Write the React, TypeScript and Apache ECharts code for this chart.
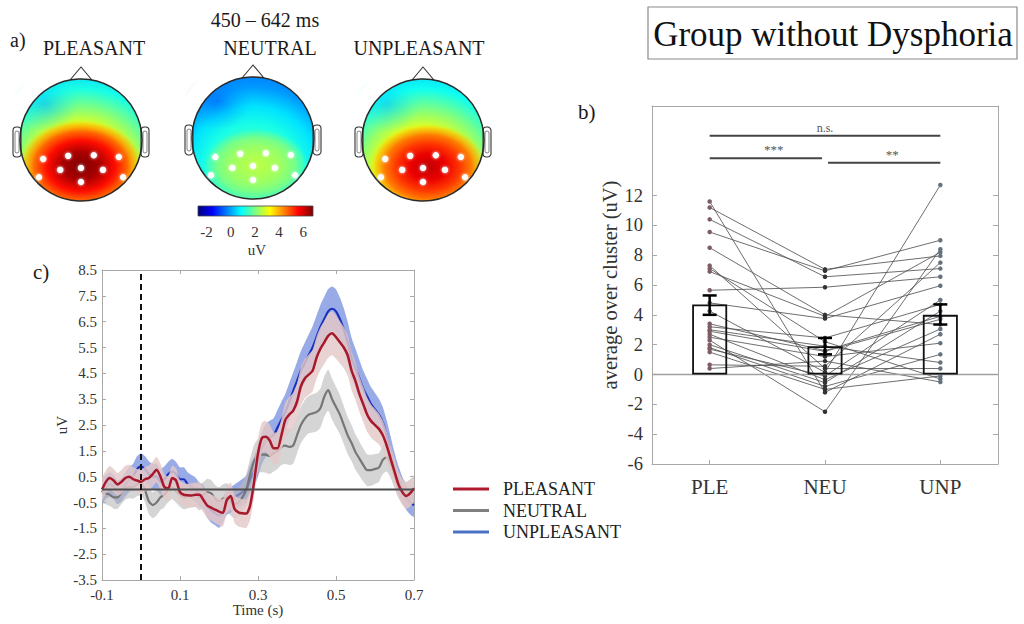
import React, { useEffect, useRef } from 'react';
import * as echarts from 'echarts';

const FONT = '"Liberation Serif", "Times New Roman", serif';

// ---------- a) scalp maps, 450–642 ms ----------
const conditions = ['PLEASANT', 'NEUTRAL', 'UNPLEASANT'];
const colorRange = [-2.7, 6.8];
const colorbarTicks = [-2, 0, 2, 4, 6];
// background field (uV) from the posterior pole outward
const fieldStops = [0, 0.25, 0.45, 0.62, 0.8, 1];
const backgroundField = [
  [4.3, 3.9, 3.1, 2.1, 1.1, 0.4],
  [1.9, 1.6, 1.1, 0.6, -0.1, -0.5],
  [4.1, 3.7, 2.9, 2.0, 1.0, 0.4],
];
// posterior maximum over the cluster (uV)
const peakStops = [0, 0.3, 0.55, 0.75, 0.9, 1];
const peakField = [
  [6.8, 6.4, 5.5, 4.7, 4.0, 3.6],
  [2.6, 2.45, 2.25, 2.0, 1.7, 1.5],
  [6.2, 5.8, 5.1, 4.5, 3.9, 3.5],
];
const peakAlpha = [1, 1, 1, 0.95, 0.6, 0];
// frontal-left minimum (uV)
const frontalMin = [0.1, -0.8, 0.2];
// electrode cluster, in head radii (x to the right, y toward the back)
const electrodes = [
  [-0.62, 0.31], [-0.21, 0.26], [0.21, 0.25], [0.62, 0.28],
  [-0.69, 0.61], [-0.34, 0.49], [0, 0.46], [0.36, 0.49], [0.69, 0.61], [0, 0.69],
];

// ---------- c) grand-average ERP ----------
const times = [
  -0.1, -0.09, -0.08, -0.07, -0.06, -0.05, -0.04, -0.03, -0.02, -0.01,
  0, 0.01, 0.02, 0.03, 0.04, 0.05, 0.06, 0.07, 0.08, 0.09,
  0.1, 0.11, 0.12, 0.13, 0.14, 0.15, 0.16, 0.17, 0.18, 0.19,
  0.2, 0.21, 0.22, 0.23, 0.24, 0.25, 0.26, 0.27, 0.28, 0.29,
  0.3, 0.31, 0.32, 0.33, 0.34, 0.35, 0.36, 0.37, 0.38, 0.39,
  0.4, 0.41, 0.42, 0.43, 0.44, 0.45, 0.46, 0.47, 0.48, 0.49,
  0.5, 0.51, 0.52, 0.53, 0.54, 0.55, 0.56, 0.57, 0.58, 0.59,
  0.6, 0.61, 0.62, 0.63, 0.64, 0.65, 0.66, 0.67, 0.68, 0.69,
  0.7,
];
const pleasant = [
  0.0, 0.3, 0.45, 0.35, 0.2, 0.3, 0.45, 0.5, 0.4, 0.35,
  0.3, 0.4, 0.45, 0.6, 0.77, 0.5, 0.1, 0.05, 0.45, 0.35,
  -0.1, -0.2, -0.22, -0.23, -0.2, -0.2, -0.4, -0.62, -0.7, -0.78,
  -0.85, -0.9, -0.4, -0.25, -0.75, -0.88, -0.92, -0.93, -0.6, 0.3,
  1.4, 2.0, 2.05, 1.9, 1.6, 1.6, 2.1, 2.7, 2.9, 3.05,
  3.4, 4.0, 4.3, 4.45, 4.6, 5.1, 5.45, 5.7, 5.95, 6.05,
  5.9, 5.7, 5.5, 5.2, 4.6, 4.2, 3.7, 3.3, 2.9, 2.65,
  2.5, 2.35, 2.1, 1.7, 1.2, 0.7, 0.2, -0.1, -0.25, -0.15,
  0.05,
];
const neutral = [
  -0.1, -0.15, -0.2, -0.3, -0.3, -0.1, 0.05, 0.1, 0.1, 0.2,
  0.25, 0.0, -0.45, -0.6, -0.5, -0.3, -0.2, 0.0, 0.1, -0.05,
  -0.2, -0.3, -0.25, -0.2, -0.2, -0.3, -0.2, -0.1, -0.15, -0.35,
  -0.45, -0.35, -0.3, -0.45, -0.55, -0.5, -0.3, 0.0, 0.6, 1.1,
  1.3, 1.35, 1.35, 1.3, 1.4, 1.5, 1.65, 1.7, 1.65, 1.7,
  2.1, 2.5, 2.75, 2.9, 2.95, 3.0, 3.15, 3.6, 3.85, 3.5,
  3.2, 2.9, 2.5, 2.1, 1.8, 1.45, 1.2, 0.95, 0.75, 0.75,
  0.8, 0.85, 1.15, 1.25, 1.0, 0.6, 0.2, -0.05, -0.2, -0.1,
  0.0,
];
const unpleasant = [
  -0.1, 0.1, 0.2, 0.1, -0.1, 0.0, 0.2, 0.4, 0.5, 0.8,
  0.9, 0.8, 0.6, 0.5, 0.5, 0.3, 0.4, 0.6, 0.7, 0.6,
  0.4, 0.4, 0.2, 0.1, 0.0, -0.2, -0.3, -0.6, -0.8, -0.9,
  -1.0, -0.8, -0.5, -0.4, -0.3, -0.2, -0.1, 0.0, 0.4, 0.7,
  1.1, 1.6, 1.9, 2.0, 2.1, 2.4, 2.7, 3.0, 3.4, 3.8,
  4.2, 4.6, 4.9, 5.2, 5.5, 5.9, 6.3, 6.6, 6.9, 7.0,
  6.9, 6.6, 6.2, 5.7, 5.1, 4.7, 4.3, 3.9, 3.6, 3.3,
  3.1, 2.9, 2.6, 2.1, 1.5, 0.9, 0.4, 0.0, -0.3, -0.5,
  -0.6,
];
const pleasantSem = [
  0.42, 0.44, 0.46, 0.45, 0.44, 0.46, 0.47, 0.47, 0.46, 0.45,
  0.46, 0.47, 0.48, 0.48, 0.5, 0.5, 0.48, 0.47, 0.48, 0.47,
  0.46, 0.45, 0.45, 0.46, 0.46, 0.47, 0.48, 0.5, 0.5, 0.52,
  0.52, 0.53, 0.52, 0.52, 0.54, 0.55, 0.55, 0.56, 0.56, 0.58,
  0.6, 0.6, 0.6, 0.62, 0.62, 0.63, 0.64, 0.66, 0.68, 0.7,
  0.72, 0.74, 0.76, 0.78, 0.8, 0.82, 0.83, 0.84, 0.85, 0.85,
  0.84, 0.82, 0.8, 0.78, 0.75, 0.72, 0.7, 0.68, 0.66, 0.64,
  0.62, 0.6, 0.58, 0.56, 0.54, 0.52, 0.5, 0.5, 0.5, 0.5,
  0.5,
];
const neutralSem = [
  0.4, 0.42, 0.44, 0.44, 0.45, 0.45, 0.44, 0.44, 0.45, 0.46,
  0.47, 0.48, 0.5, 0.5, 0.5, 0.49, 0.48, 0.48, 0.47, 0.46,
  0.46, 0.46, 0.47, 0.48, 0.48, 0.5, 0.5, 0.52, 0.52, 0.53,
  0.54, 0.55, 0.55, 0.56, 0.56, 0.57, 0.58, 0.6, 0.62, 0.64,
  0.66, 0.68, 0.7, 0.7, 0.7, 0.7, 0.7, 0.7, 0.7, 0.7,
  0.7, 0.7, 0.72, 0.72, 0.74, 0.75, 0.76, 0.78, 0.8, 0.8,
  0.78, 0.76, 0.74, 0.72, 0.7, 0.68, 0.66, 0.64, 0.62, 0.6,
  0.58, 0.56, 0.55, 0.55, 0.55, 0.54, 0.52, 0.5, 0.5, 0.5,
  0.5,
];
const unpleasantSem = [
  0.45, 0.46, 0.47, 0.47, 0.46, 0.46, 0.47, 0.48, 0.5, 0.5,
  0.5, 0.5, 0.5, 0.5, 0.52, 0.5, 0.5, 0.48, 0.48, 0.47,
  0.46, 0.46, 0.46, 0.46, 0.46, 0.47, 0.47, 0.48, 0.48, 0.48,
  0.48, 0.48, 0.48, 0.5, 0.5, 0.5, 0.52, 0.54, 0.56, 0.58,
  0.6, 0.62, 0.64, 0.66, 0.66, 0.68, 0.7, 0.7, 0.72, 0.72,
  0.74, 0.76, 0.78, 0.8, 0.82, 0.84, 0.85, 0.86, 0.86, 0.86,
  0.85, 0.84, 0.82, 0.8, 0.78, 0.75, 0.72, 0.7, 0.68, 0.66,
  0.64, 0.62, 0.6, 0.58, 0.56, 0.54, 0.52, 0.5, 0.48, 0.46,
  0.45,
];
const timeTicks = [-0.1, 0.1, 0.3, 0.5, 0.7];
const erpTicks = [-3.5, -2.5, -1.5, -0.5, 0.5, 1.5, 2.5, 3.5, 4.5, 5.5, 6.5, 7.5, 8.5];

// ---------- b) cluster average per participant ----------
const clusterCategories = ['PLE', 'NEU', 'UNP'];
const clusterMeans = [4.7, 1.9, 4.0];
const clusterErrLow = [4.0, 1.35, 3.35];
const clusterErrHigh = [5.3, 2.45, 4.7];
const subjectPLE = [11.6, 11.2, 10.4, 9.55, 8.5, 7.3, 7.1, 6.9, 5.65, 4.8, 4.25, 3.2, 3.0, 2.9, 2.7, 2.5, 2.3, 2.0, 1.8, 1.7, 1.5, 0.65, 0.4, 3.4];
const subjectNEU = [-1.2, 7.05, 6.55, 6.95, 4.0, 0.4, 2.2, 3.9, 5.85, 3.75, 0.15, 2.45, 1.9, 1.55, -0.35, 1.2, -2.5, -0.55, -0.8, -0.1, -1.0, 0.55, 0.9, 1.6];
const subjectUNP = [2.7, 7.95, 7.1, 9.0, 3.35, 0.4, -0.3, 8.2, 6.55, 5.95, 12.7, 4.7, 0.8, 3.7, 3.05, 2.1, 8.4, 4.25, 1.35, 5.0, -0.1, 7.5, -0.5, 3.9];
const clusterTicks = [-6, -4, -2, 0, 2, 4, 6, 8, 10, 12];
const sigPairs = [[0, 2], [0, 1], [1, 2]];
const sigHeights = [16, 14.5, 14.2];
const sigLabels = ['n.s.', '***', '**'];

// MATLAB "jet" colour map
function jet(v: number, alpha = 1): string {
  const t = Math.max(0, Math.min(1, (v - colorRange[0]) / (colorRange[1] - colorRange[0])));
  const c = (x: number) => Math.round(255 * Math.max(0, Math.min(1, x)));
  const r = c(1.5 - Math.abs(4 * t - 3));
  const g = c(1.5 - Math.abs(4 * t - 2));
  const b = c(1.5 - Math.abs(4 * t - 1));
  return `rgba(${r},${g},${b},${alpha})`;
}

function text(x: number, y: number, str: string, size: number, align = 'center', color = '#1a1a1a') {
  return {
    type: 'text',
    x,
    y,
    silent: true,
    style: {
      text: str,
      font: `${size}px ${FONT}`,
      fill: color,
      textAlign: align,
      textVerticalAlign: 'middle',
      align,
      verticalAlign: 'middle',
    },
  };
}

type Head = { c: [number, number]; hot: [number, number, number, number] };
const HEAD_R = 61;
const HEADS: Head[] = [
  { c: [81, 140], hot: [81, 166, 62, 46] },
  { c: [253, 138], hot: [256, 165, 52, 36] },
  { c: [423, 140], hot: [428, 167, 58, 43] },
];

function fieldElements(k: number, h: Head) {
  const [cx, cy] = h.c;
  const r = HEAD_R;
  return [
    {
      type: 'circle',
      shape: { cx, cy, r },
      style: {
        fill: {
          type: 'radial', x: 0.5, y: 0.8, r: 0.9,
          colorStops: fieldStops.map((o, i) => ({ offset: o, color: jet(backgroundField[k][i]) })),
        },
      },
    },
    {
      type: 'ellipse',
      shape: { cx: cx - 36, cy: cy - 36, rx: 34, ry: 28 },
      style: {
        fill: {
          type: 'radial', x: 0.5, y: 0.5, r: 0.5,
          colorStops: [
            { offset: 0, color: jet(frontalMin[k], 0.5) },
            { offset: 1, color: jet(frontalMin[k] + 0.6, 0) },
          ],
        },
      },
    },
    {
      type: 'ellipse',
      shape: { cx: h.hot[0], cy: h.hot[1], rx: h.hot[2], ry: h.hot[3] },
      style: {
        fill: {
          type: 'radial', x: 0.5, y: 0.5, r: 0.5,
          colorStops: peakStops.map((o, i) => ({ offset: o, color: jet(peakField[k][i], peakAlpha[i]) })),
        },
      },
    },
  ];
}

function headOutline(h: Head) {
  const [cx, cy] = h.c;
  const r = HEAD_R;
  const outline = '#333';
  const els: any[] = [];
  // white mask trims the field to the scalp
  els.push({ type: 'ring', shape: { cx, cy, r: r + 18, r0: r }, style: { fill: '#fff' } });
  const baseY = cy - Math.sqrt(r * r - 121);
  els.push({
    type: 'polyline',
    shape: { points: [[cx - 11, baseY], [cx, cy - r - 12], [cx + 11, baseY]] },
    style: { fill: 'none', stroke: outline, lineWidth: 1.1 },
  });
  [-1, 1].forEach((side) => {
    const x0 = side < 0 ? cx - r - 7 : cx + r - 1;
    els.push({
      type: 'rect',
      shape: { x: x0, y: cy - 13, width: 8, height: 30, r: 3.5 },
      style: { fill: '#fff', stroke: outline, lineWidth: 1.1 },
    });
    els.push({
      type: 'rect',
      shape: { x: x0 + 2, y: cy - 9, width: 4, height: 22, r: 2 },
      style: { fill: 'none', stroke: '#666', lineWidth: 0.8 },
    });
  });
  els.push({
    type: 'circle',
    shape: { cx, cy, r },
    style: { fill: 'none', stroke: '#2a2a2a', lineWidth: 1.5 },
  });
  electrodes.forEach(([ex, ey]) => {
    els.push({
      type: 'circle',
      shape: { cx: cx + ex * r, cy: cy + ey * r, r: 3.2 },
      style: { fill: '#ffffff', shadowBlur: 3, shadowColor: 'rgba(255,255,255,0.9)' },
    });
  });
  return els;
}

function buildGraphic() {
  const els: any[] = [];
  HEADS.forEach((h, k) => els.push(...fieldElements(k, h)));
  HEADS.forEach((h) => els.push(...headOutline(h)));

  // colour bar
  const cbX = 198, cbY = 206, cbW = 115, cbH = 10;
  const stops: any[] = [];
  for (let i = 0; i <= 16; i++) {
    const v = colorRange[0] + (i / 16) * (colorRange[1] - colorRange[0]);
    stops.push({ offset: i / 16, color: jet(v) });
  }
  els.push({
    type: 'rect',
    shape: { x: cbX, y: cbY, width: cbW, height: cbH },
    style: { fill: { type: 'linear', x: 0, y: 0, x2: 1, y2: 0, colorStops: stops }, stroke: '#444', lineWidth: 0.8 },
  });
  colorbarTicks.forEach((v) => {
    const x = cbX + ((v - colorRange[0]) / (colorRange[1] - colorRange[0])) * cbW;
    els.push(text(x, 232, String(v), 15, 'center', '#333'));
  });
  els.push(text(257, 250, 'uV', 15, 'center', '#333'));

  // panel labels and titles
  els.push(text(10, 40, 'a)', 20, 'left'));
  els.push(text(265, 20, '450 – 642 ms', 20));
  els.push(text(94, 48, conditions[0], 20));
  els.push(text(270, 48, conditions[1], 20));
  els.push(text(419, 48, conditions[2], 20));
  els.push(text(578, 112, 'b)', 21, 'left'));
  els.push(text(33, 272, 'c)', 21, 'left'));

  els.push({
    type: 'rect',
    shape: { x: 648, y: 7, width: 369, height: 52 },
    style: { fill: '#fff', stroke: '#8a8a8a', lineWidth: 1.2 },
  });
  els.push(text(833, 34, 'Group without Dysphoria', 35, 'center', '#111'));
  return els;
}

function buildOption(): any {
  const boxColor = '#a8a8a8';
  const labelStyle = { color: '#333', fontFamily: FONT };

  const band = (mean: number[], sem: number[], fill: string, z: number) => ({
    type: 'custom',
    xAxisIndex: 0,
    yAxisIndex: 0,
    z,
    silent: true,
    clip: true,
    data: [[times[0], mean[0]]],
    renderItem: (_p: any, api: any) => {
      const upper = times.map((t, i) => api.coord([t, mean[i] + sem[i]]));
      const lower = times.map((t, i) => api.coord([t, mean[i] - sem[i]])).reverse();
      return { type: 'polygon', shape: { points: upper.concat(lower), smooth: 0.2 }, style: { fill } };
    },
  });
  const erpLine = (name: string, mean: number[], color: string, width: number, z: number) => ({
    type: 'line',
    name,
    xAxisIndex: 0,
    yAxisIndex: 0,
    z,
    silent: true,
    showSymbol: false,
    smooth: 0.25,
    data: times.map((t, i) => [t, mean[i]]),
    lineStyle: { color, width },
    itemStyle: { color },
  });

  const subjectSeries = subjectPLE.map((_, i) => ({
    type: 'line',
    xAxisIndex: 2,
    yAxisIndex: 2,
    z: 3,
    silent: true,
    symbol: 'circle',
    symbolSize: 4.5,
    lineStyle: { color: 'rgba(85,85,85,0.85)', width: 1 },
    data: [
      { value: subjectPLE[i], itemStyle: { color: '#7d5d63' } },
      { value: subjectNEU[i], itemStyle: { color: '#333' } },
      { value: subjectUNP[i], itemStyle: { color: '#66727e' } },
    ],
  }));

  const vAxis = (grid: number, min: number, max: number, ticks: number[], pos: string, tickLen: number) => ({
    gridIndex: grid, type: 'value', min, max, position: pos,
    axisLine: { show: true, onZero: false, lineStyle: { color: boxColor } },
    splitLine: { show: false },
    axisTick: { show: true, inside: true, length: tickLen, customValues: ticks, lineStyle: { color: boxColor } },
    axisLabel: { show: false },
  });

  return {
    animation: false,
    backgroundColor: '#fff',
    textStyle: { fontFamily: FONT },
    grid: [
      { left: 102, top: 270, width: 312, height: 310, outerBoundsMode: 'none', containLabel: false },
      { left: 652, top: 106, width: 346, height: 358, outerBoundsMode: 'none', containLabel: false },
    ],
    xAxis: [
      {
        ...vAxis(0, -0.1, 0.7, timeTicks, 'bottom', 4),
        axisLabel: { customValues: timeTicks, formatter: (v: number) => v.toFixed(1), fontSize: 15, margin: 7, ...labelStyle },
        name: 'Time (s)', nameLocation: 'middle', nameGap: 21,
        nameTextStyle: { fontSize: 15, ...labelStyle },
      },
      vAxis(0, -0.1, 0.7, timeTicks, 'top', 4),
      {
        gridIndex: 1, type: 'category', data: clusterCategories, position: 'bottom',
        axisLine: { show: true, onZero: false, lineStyle: { color: boxColor } },
        axisTick: { show: true, inside: true, length: 4, alignWithLabel: true, lineStyle: { color: boxColor } },
        axisLabel: { fontSize: 21, margin: 12, ...labelStyle },
        splitLine: { show: false },
      },
      {
        gridIndex: 1, type: 'category', data: clusterCategories, position: 'top',
        axisLine: { show: true, onZero: false, lineStyle: { color: boxColor } },
        axisTick: { show: false },
        axisLabel: { show: false },
        splitLine: { show: false },
      },
    ],
    yAxis: [
      {
        ...vAxis(0, -3.5, 8.5, erpTicks, 'left', 4),
        axisLabel: { customValues: erpTicks, formatter: (v: number) => v.toFixed(1), fontSize: 15, margin: 5, ...labelStyle },
        name: 'uV', nameLocation: 'middle', nameGap: 32, nameRotate: 90,
        nameTextStyle: { fontSize: 15, ...labelStyle },
      },
      vAxis(0, -3.5, 8.5, erpTicks, 'right', 4),
      {
        ...vAxis(1, -6, 18, clusterTicks, 'left', 5),
        axisLabel: { customValues: clusterTicks, fontSize: 18.5, margin: 9, ...labelStyle },
        name: 'average over cluster (uV)', nameLocation: 'middle', nameGap: 26, nameRotate: 90,
        nameTextStyle: { fontSize: 20.5, ...labelStyle },
      },
      vAxis(1, -6, 18, clusterTicks, 'right', 5),
    ],
    legend: {
      orient: 'vertical',
      left: 453,
      top: 480,
      padding: 0,
      itemGap: 3.5,
      itemWidth: 36,
      itemHeight: 3,
      icon: 'rect',
      selectedMode: false,
      textStyle: { fontFamily: FONT, fontSize: 18, color: '#222', padding: [0, 0, 0, 9] },
      data: [
        { name: 'PLEASANT', itemStyle: { color: '#b0192d' } },
        { name: 'NEUTRAL', itemStyle: { color: '#7f7f7f' } },
        { name: 'UNPLEASANT', itemStyle: { color: '#4a72c4' } },
      ],
    },
    series: [
      // c) ERP waveforms with standard-error bands
      band(unpleasant, unpleasantSem, 'rgba(110,135,220,0.7)', 2),
      erpLine('UNPLEASANT', unpleasant, '#1a2fbf', 2.2, 3),
      band(neutral, neutralSem, 'rgba(185,185,185,0.6)', 4),
      erpLine('NEUTRAL', neutral, '#767676', 2.2, 5),
      band(pleasant, pleasantSem, 'rgba(228,200,200,0.82)', 6),
      erpLine('PLEASANT', pleasant, '#a8182b', 2.5, 7),
      {
        type: 'line', xAxisIndex: 0, yAxisIndex: 0, z: 9, silent: true, showSymbol: false,
        data: [[-0.1, 0], [0.7, 0]],
        lineStyle: { color: '#4d4d4d', width: 2 },
      },
      {
        type: 'line', xAxisIndex: 0, yAxisIndex: 0, z: 10, silent: true, showSymbol: false,
        data: [[0, -3.5], [0, 8.5]],
        lineStyle: { color: '#111', width: 2, type: [6, 4] },
      },
      // b) participants, condition means and significance
      ...subjectSeries,
      {
        type: 'bar',
        xAxisIndex: 2,
        yAxisIndex: 2,
        z: 5,
        silent: true,
        barWidth: 35,
        data: clusterMeans,
        itemStyle: { color: 'rgba(0,0,0,0)', borderColor: '#111', borderWidth: 1.8 },
        markLine: {
          silent: true,
          symbol: 'none',
          label: { show: false },
          lineStyle: { color: '#a0a0a0', width: 1.3, type: 'solid' },
          data: [{ yAxis: 0 }],
        },
      },
      {
        type: 'custom',
        xAxisIndex: 2,
        yAxisIndex: 2,
        z: 6,
        silent: true,
        data: clusterCategories.map((_, i) => [i, clusterErrLow[i], clusterErrHigh[i]]),
        renderItem: (_p: any, api: any) => {
          const lo = api.coord([api.value(0), api.value(1)]);
          const hi = api.coord([api.value(0), api.value(2)]);
          const w = 7;
          const st = { stroke: '#000', lineWidth: 2.5 };
          return {
            type: 'group',
            children: [
              { type: 'line', shape: { x1: lo[0], y1: lo[1], x2: hi[0], y2: hi[1] }, style: st },
              { type: 'line', shape: { x1: lo[0] - w, y1: lo[1], x2: lo[0] + w, y2: lo[1] }, style: st },
              { type: 'line', shape: { x1: hi[0] - w, y1: hi[1], x2: hi[0] + w, y2: hi[1] }, style: st },
            ],
          };
        },
      },
      {
        type: 'custom',
        xAxisIndex: 2,
        yAxisIndex: 2,
        z: 6,
        silent: true,
        data: sigPairs.map((p, i) => [p[0], sigHeights[i], p[1]]),
        renderItem: (p: any, api: any) => {
          const a = api.coord([api.value(0), api.value(1)]);
          const b = api.coord([api.value(2), api.value(1)]);
          const x1 = a[0] + (api.value(0) === 1 ? 3 : 0);
          const x2 = b[0] - (api.value(2) === 1 ? 3 : 0);
          const label = sigLabels[p.dataIndex];
          return {
            type: 'group',
            children: [
              { type: 'line', shape: { x1, y1: a[1], x2, y2: a[1] }, style: { stroke: '#444', lineWidth: 2 } },
              {
                type: 'text',
                style: {
                  text: label,
                  x: (x1 + x2) / 2 + (label === 'n.s.' ? 0 : 8),
                  y: a[1] - 2,
                  align: 'center',
                  verticalAlign: 'bottom',
                  font: `${label === 'n.s.' ? 12 : 13}px ${FONT}`,
                  fill: '#555',
                },
              },
            ],
          };
        },
      },
    ],
    graphic: { elements: buildGraphic() },
  };
}

export default function App() {
  const ref = useRef<HTMLDivElement>(null);
  useEffect(() => {
    if (!ref.current) return;
    const chart = echarts.init(ref.current, null, { renderer: 'svg' });
    chart.setOption(buildOption());
    return () => chart.dispose();
  }, []);
  return (
    <div
      ref={ref}
      style={{ position: 'absolute', left: 0, top: 0, width: 1024, height: 624, background: '#fff' }}
    />
  );
}
